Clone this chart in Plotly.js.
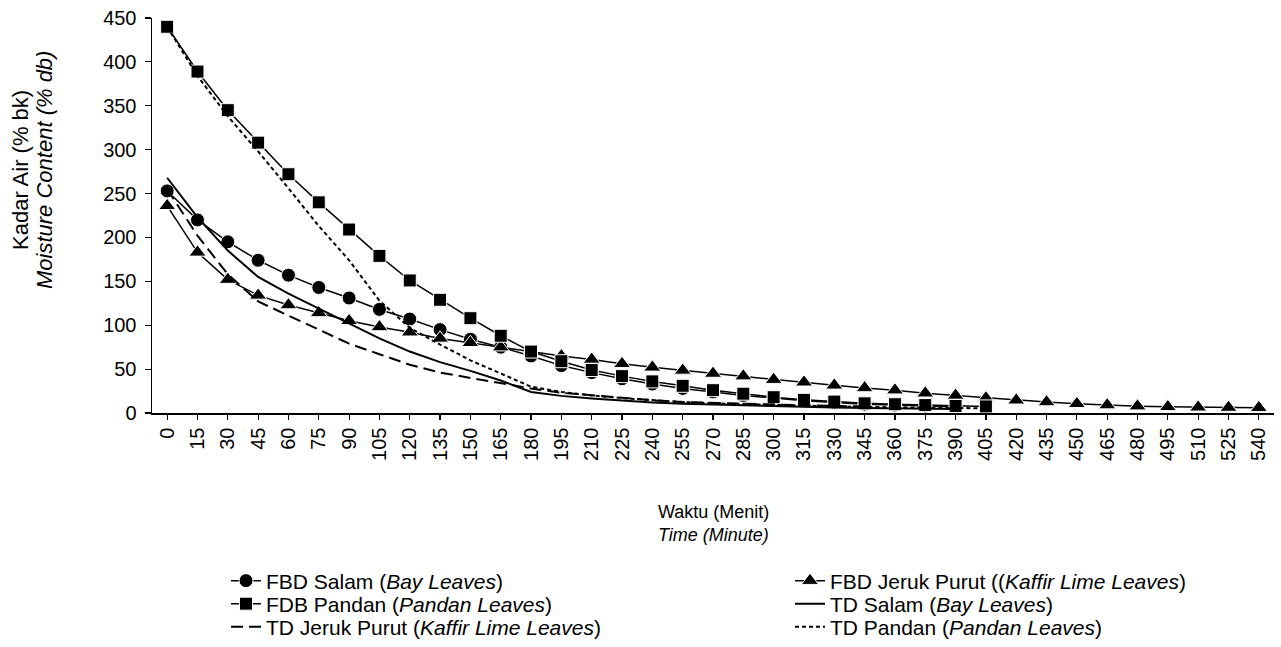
<!DOCTYPE html>
<html>
<head>
<meta charset="utf-8">
<script src="https://cdn.plot.ly/plotly-3.0.1.min.js"></script>
<style>html,body{margin:0;padding:0;background:#fff;}#chart{width:1281px;height:647px;}</style>
</head>
<body>
<div id="chart"></div>
<script>
// Time categories (minutes)
const times = ['0','15','30','45','60','75','90','105','120','135','150','165','180','195','210','225','240','255','270','285','300','315','330','345','360','375','390','405','420','435','450','465','480','495','510','525','540'];

// FBD Salam (Bay Leaves), 0..390
const fbdSalam = [253,220,195,174,157,143,131,118,107,95,84,75,65,54,46,39,33,28,24,20,17,14,12,10,9,8,7];
// FBD Jeruk Purut (Kaffir Lime Leaves), 0..540
const fbdJeruk = [236,183,152,134,123,114,105,98,92,85,80,75,70,65,61,56,52,48.5,45,42,38,35,31.5,28.5,26,22.5,20,17,14.5,12.5,10.5,9,7.8,7,6.5,6.2,6];
// FDB Pandan (Pandan Leaves), 0..405
const fdbPandan = [440,389,345,308,272,240,209,179,151,129,108,88,70,59,49,42,36,31,26,22,18,15,13,11,10,9,8,7.5];
// TD Salam, 0..390
const tdSalam = [268,223,185,155,136,119,102,85,70,58,48,37,24,19.5,16.5,14,12,10.5,9.5,8.5,7.6,6.8,6.2,5.6,5.2,4.8,4.5];
// TD Jeruk Purut, 0..345
const tdJeruk = [255,202,158,127,111,95,79,67,55,46,40,34,28,23,20,17,14.5,12.5,11.4,10.4,9.5,8.7,8,7.4];
// TD Pandan, 0..405
const tdPandan = [440,384,338,298,256,213,174,128,97,78,60,45,30,24,20,17,14.5,12.5,11,10,9,8.3,7.6,7,6.5,6,5.6,5.3];

const names = [
  'FBD Salam (<i>Bay Leaves</i>)',
  'FBD Jeruk Purut ((<i>Kaffir Lime Leaves</i>)',
  'FDB Pandan (<i>Pandan Leaves</i>)',
  'TD Salam (<i>Bay Leaves</i>)',
  'TD Jeruk Purut (<i>Kaffir Lime Leaves</i>)',
  'TD Pandan (<i>Pandan Leaves</i>)'
];

const FONT = 'Liberation Sans, Arial, sans-serif';

function sl(arr){ return times.slice(0, arr.length); }

const data = [
  {x: sl(fbdSalam), y: fbdSalam, name: names[0], legend:'legend', type:'scatter', mode:'lines+markers',
   line:{color:'#000', width:1.5}, marker:{symbol:'circle', size:14, color:'#000', line:{color:'#fff', width:1}}},
  {x: sl(fbdJeruk), y: fbdJeruk, name: names[1], legend:'legend2', type:'scatter', mode:'lines+markers',
   line:{color:'#000', width:1.5}, marker:{symbol:'triangle-up', size:15, color:'#000', line:{color:'#fff', width:1}}},
  {x: sl(fdbPandan), y: fdbPandan, name: names[2], legend:'legend3', type:'scatter', mode:'lines+markers',
   line:{color:'#000', width:1.5}, marker:{symbol:'square', size:13, color:'#000', line:{color:'#fff', width:1}}},
  {x: sl(tdSalam), y: tdSalam, name: names[3], legend:'legend4', type:'scatter', mode:'lines',
   line:{color:'#000', width:2}},
  {x: sl(tdJeruk), y: tdJeruk, name: names[4], legend:'legend5', type:'scatter', mode:'lines',
   line:{color:'#000', width:2, dash:'12px,6px'}},
  {x: sl(tdPandan), y: tdPandan, name: names[5], legend:'legend6', type:'scatter', mode:'lines',
   line:{color:'#000', width:2, dash:'4px,3px'}}
];

function legendCell(lx, cy){
  return {
    orientation:'v', xref:'container', yref:'container',
    x: lx/1281, y: 1 - cy/647, xanchor:'left', yanchor:'middle',
    font:{family:FONT, size:21, color:'#000'},
    bgcolor:'rgba(0,0,0,0)', borderwidth:0
  };
}

const COL1 = 226, COL2 = 790;
const layout = {
  width: 1281, height: 647,
  margin: {l:152, r:7, t:18, b:234, autoexpand:false},
  paper_bgcolor:'#fff', plot_bgcolor:'#fff',
  font: {family: FONT, color:'#000', size:19},
  showlegend: true,
  legend:  legendCell(COL1, 581),
  legend2: legendCell(COL2, 581),
  legend3: legendCell(COL1, 604),
  legend4: legendCell(COL2, 604),
  legend5: legendCell(COL1, 627),
  legend6: legendCell(COL2, 627),
  xaxis: {
    type:'category', categoryorder:'array', categoryarray: times,
    range:[-0.5, 36.5], showgrid:false, zeroline:false, automargin:false,
    showline:true, linecolor:'#000', linewidth:1.5,
    ticks:'outside', ticklen:5, tickcolor:'#000', tickwidth:1.2,
    tickangle:-90, tickfont:{family:FONT, size:20, color:'#000'},
    ticklabelstandoff: 0, fixedrange:true
  },
  yaxis: {
    range:[0,450], dtick:50, showgrid:false, zeroline:false, automargin:false,
    showline:true, linecolor:'#000', linewidth:1.5,
    ticks:'outside', ticklen:6, tickcolor:'#000', tickwidth:1.2,
    tickfont:{family:FONT, size:20, color:'#000'},
    ticklabelstandoff: 4, fixedrange:true
  },
  annotations: [
    {xref:'paper', yref:'paper', x:(20-152)/1122, y:(413-170)/395, text:'Kadar Air (% bk)', textangle:-90,
     showarrow:false, xanchor:'center', yanchor:'middle', font:{family:FONT, size:22, color:'#000'}},
    {xref:'paper', yref:'paper', x:(44-152)/1122, y:(413-170)/395, text:'<i>Moisture Content (% db)</i>', textangle:-90,
     showarrow:false, xanchor:'center', yanchor:'middle', font:{family:FONT, size:22, color:'#000'}},
    {xref:'paper', yref:'paper', x:0.5, y:(413-512)/395, text:'Waktu (Menit)',
     showarrow:false, xanchor:'center', yanchor:'middle', font:{family:FONT, size:18, color:'#000'}},
    {xref:'paper', yref:'paper', x:0.5, y:(413-535)/395, text:'<i>Time (Minute)</i>',
     showarrow:false, xanchor:'center', yanchor:'middle', font:{family:FONT, size:18, color:'#000'}}
  ]
};

Plotly.newPlot('chart', data, layout, {displayModeBar:false, staticPlot:true});
</script>
</body>
</html>
